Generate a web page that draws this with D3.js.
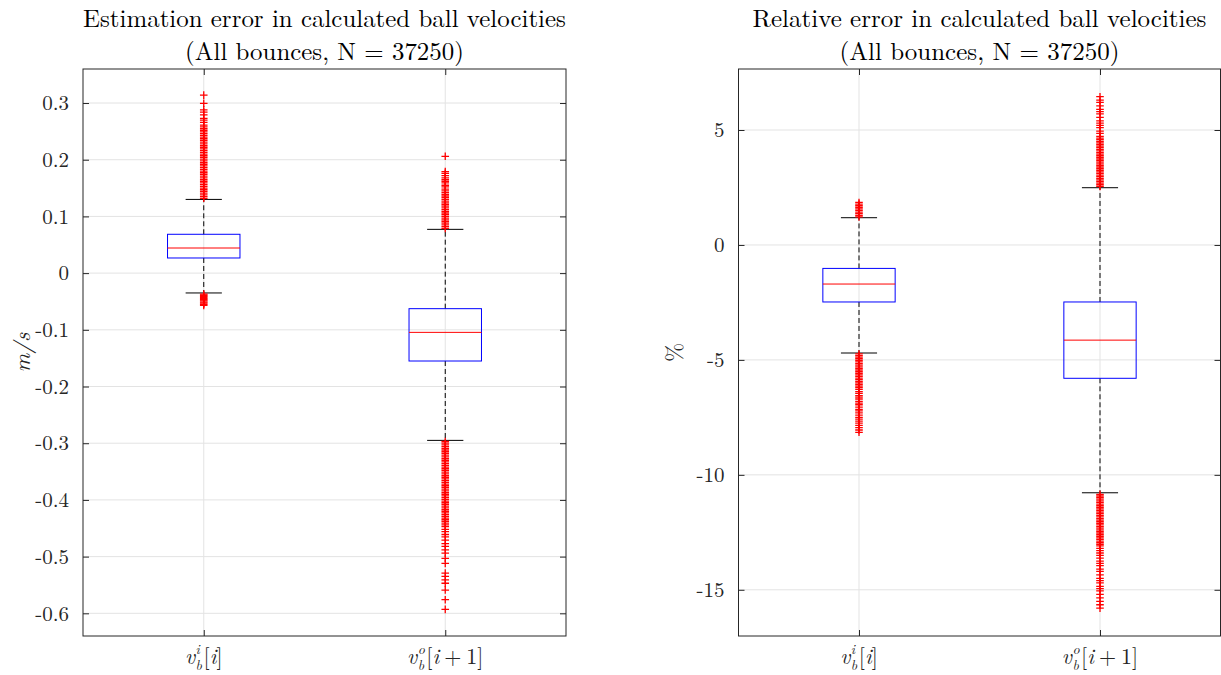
<!DOCTYPE html>
<html><head><meta charset="utf-8">
<script src="https://cdn.jsdelivr.net/npm/d3@7"></script>
<style>
body{margin:0;background:#fff}
svg{display:block}
</style>
</head><body>
<svg id="c" width="1221" height="675"></svg>
<script>
// ---------- data ----------
const categories = [1, 2];
const catSub = ["b", "b"];
const catSup = ["i", "o"];
const catIndex = [["i"], ["i", "+", "1"]];

const absTicks = [-0.6, -0.5, -0.4, -0.3, -0.2, -0.1, 0, 0.1, 0.2, 0.3];
const absDomain = [-0.64, 0.36];
const absQ1 = [0.0267, -0.155];
const absMedian = [0.0443, -0.1045];
const absQ3 = [0.0685, -0.0627];
const absWhiskerLow = [-0.035, -0.295];
const absWhiskerHigh = [0.130, 0.0772];
const absOutliers1 = [0.132,0.135,0.138,0.141,0.144,0.147,0.150,0.153,0.156,0.159,0.162,0.165,0.168,0.171,0.174,0.177,0.180,0.183,0.186,0.189,0.192,0.195,0.198,0.201,0.204,0.207,0.210,0.213,0.216,0.219,0.222,0.225,0.228,0.231,0.234,0.237,0.240,0.243,0.246,0.249,0.252,0.255,0.258,0.261,0.266,0.270,0.273,0.279,0.284,0.288,0.2995,0.314,
  -0.037,-0.039,-0.041,-0.043,-0.045,-0.047,-0.049,-0.051,-0.053,-0.055,-0.057];
const absOutliers2 = [0.079,0.082,0.085,0.088,0.091,0.094,0.097,0.100,0.103,0.106,0.109,0.112,0.115,0.118,0.121,0.124,0.127,0.130,0.133,0.136,0.139,0.142,0.145,0.148,0.152,0.155,0.159,0.162,0.165,0.168,0.172,0.176,0.179,0.206,
  -0.297,-0.300,-0.303,-0.306,-0.309,-0.312,-0.315,-0.318,-0.321,-0.324,-0.327,-0.330,-0.333,-0.336,-0.339,-0.342,-0.345,-0.348,-0.351,-0.354,-0.357,-0.360,-0.363,-0.366,-0.369,-0.372,-0.375,-0.378,-0.381,-0.384,-0.387,-0.390,-0.393,-0.396,-0.399,-0.402,-0.405,-0.408,-0.411,-0.414,-0.417,-0.420,-0.423,-0.426,-0.429,-0.432,-0.435,-0.438,-0.441,-0.444,-0.447,
  -0.452,-0.456,-0.461,-0.465,-0.471,-0.477,-0.482,-0.488,-0.494,-0.503,-0.512,-0.529,-0.535,-0.541,-0.547,-0.559,-0.576,-0.593];

const relTicks = [-15, -10, -5, 0, 5];
const relDomain = [-17.01, 7.654];
const relQ1 = [-2.48, -5.80];
const relMedian = [-1.70, -4.14];
const relQ3 = [-1.02, -2.48];
const relWhiskerLow = [-4.70, -10.78];
const relWhiskerHigh = [1.185, 2.49];
const relOutliers1 = [1.22,1.29,1.36,1.43,1.50,1.57,1.64,1.71,1.78,1.85,
  -4.74,-4.81,-4.88,-4.95,-5.02,-5.09,-5.16,-5.23,-5.30,-5.37,-5.44,-5.51,-5.58,-5.65,-5.72,-5.79,-5.86,-5.93,-6.00,-6.07,-6.14,-6.21,-6.28,
  -6.38,-6.46,-6.55,-6.62,-6.70,-6.80,-6.88,-6.95,-7.05,-7.15,-7.22,-7.30,-7.40,-7.50,-7.58,-7.66,-7.75,-7.85,-7.95,-8.05,-8.15];
const relOutliers2 = [2.55,2.62,2.69,2.76,2.83,2.90,2.97,3.04,3.11,3.18,3.25,3.32,3.39,3.46,3.53,3.60,3.67,3.74,3.81,3.88,3.95,4.02,4.09,4.16,4.23,4.30,4.37,4.44,4.51,4.58,4.65,4.72,
  4.85,4.95,5.1,5.2,5.3,5.4,5.55,5.7,5.8,5.9,6.05,6.2,6.3,6.45,
  -10.85,-10.92,-10.99,-11.06,-11.13,-11.20,-11.27,-11.34,-11.41,-11.48,-11.55,-11.62,-11.69,-11.76,-11.83,-11.90,-11.97,-12.04,-12.11,-12.18,-12.25,-12.32,-12.39,-12.46,-12.53,-12.60,-12.67,-12.74,-12.81,-12.88,-12.95,-13.02,-13.09,
  -13.2,-13.3,-13.4,-13.5,-13.62,-13.75,-13.85,-13.95,-14.1,-14.2,-14.35,-14.5,-14.6,-14.7,-14.85,-14.95,-15.05,-15.2,-15.35,-15.5,-15.65,-15.8];

const titles1 = ["Estimation error in calculated ball velocities", "(All bounces, N = 37250)"];
const titles2 = ["Relative error in calculated ball velocities", "(All bounces, N = 37250)"];

// ---------- drawing ----------
const svg = d3.select("#c");
const AX = "#262626", GRID = "#e3e3e3", FONT = '"Latin Modern Roman","Liberation Serif",serif';

function drawPanel(p) {
  const g = svg.append("g").attr("font-family", FONT);
  const x = d3.scaleLinear().domain([0.5, 2.5]).range([p.left, p.right]);
  const y = d3.scaleLinear().domain(p.domain).range([p.bottom, p.top]);

  g.append("g").selectAll("line").data(p.ticks).join("line")
    .attr("x1", p.left).attr("x2", p.right)
    .attr("y1", d => y(d)).attr("y2", d => y(d))
    .attr("stroke", GRID).attr("stroke-width", 1);
  g.append("g").selectAll("line").data(categories).join("line")
    .attr("x1", d => x(d)).attr("x2", d => x(d))
    .attr("y1", p.top).attr("y2", p.bottom)
    .attr("stroke", GRID).attr("stroke-width", 1);

  const yl = g.append("g").attr("transform", `translate(${p.left},0)`)
    .call(d3.axisLeft(y).tickValues(p.ticks).tickSize(-6).tickPadding(14).tickFormat(d => String(d)));
  const yr = g.append("g").attr("transform", `translate(${p.right},0)`)
    .call(d3.axisRight(y).tickValues(p.ticks).tickSize(-6).tickFormat(""));
  const xb = g.append("g").attr("transform", `translate(0,${p.bottom})`)
    .call(d3.axisBottom(x).tickValues(categories).tickSize(-6).tickFormat(""));
  const xt = g.append("g").attr("transform", `translate(0,${p.top})`)
    .call(d3.axisTop(x).tickValues(categories).tickSize(-6).tickFormat(""));
  [yl, yr, xb, xt].forEach(a => {
    a.attr("font-family", FONT);
    a.select(".domain").remove();
    a.selectAll(".tick line").attr("stroke", AX).attr("stroke-width", 1);
  });
  yl.selectAll(".tick text").attr("font-size", 21).attr("fill", AX).attr("font-family", FONT);
  g.append("rect").attr("x", p.left).attr("y", p.top)
    .attr("width", p.right - p.left).attr("height", p.bottom - p.top)
    .attr("fill", "none").attr("stroke", AX).attr("stroke-width", 1);

  const bw = x(1.15) - x(0.85), cw = x(1.075) - x(0.925);
  categories.forEach((c, i) => {
    const cx = x(c);
    g.append("line").attr("x1", cx).attr("x2", cx)
      .attr("y1", y(p.q3[i])).attr("y2", y(p.wh[i]))
      .attr("stroke", "#000").attr("stroke-dasharray", "5,3").attr("stroke-width", 1);
    g.append("line").attr("x1", cx).attr("x2", cx)
      .attr("y1", y(p.q1[i])).attr("y2", y(p.wl[i]))
      .attr("stroke", "#000").attr("stroke-dasharray", "5,3").attr("stroke-width", 1);
    [p.wh[i], p.wl[i]].forEach(v => g.append("line")
      .attr("x1", cx - cw / 2).attr("x2", cx + cw / 2)
      .attr("y1", y(v)).attr("y2", y(v)).attr("stroke", "#000").attr("stroke-width", 1));
    g.append("rect").attr("x", cx - bw / 2).attr("width", bw)
      .attr("y", y(p.q3[i])).attr("height", y(p.q1[i]) - y(p.q3[i]))
      .attr("fill", "none").attr("stroke", "#0000ff").attr("stroke-width", 1);
    g.append("line").attr("x1", cx - bw / 2).attr("x2", cx + bw / 2)
      .attr("y1", y(p.med[i])).attr("y2", y(p.med[i]))
      .attr("stroke", "#ff0000").attr("stroke-width", 1);
    g.append("g").selectAll("path").data(p.out[i]).join("path")
      .attr("transform", d => `translate(${cx},${y(d)})`)
      .attr("d", "M-3.8,0H3.8M0,-3.8V3.8")
      .attr("stroke", "#ff0000").attr("stroke-width", 1.3).attr("fill", "none");
    drawLabel(g, cx, p.bottom + 28, catSub[i], catSup[i], catIndex[i]);
  });

  const tc = (p.left + p.right) / 2;
  const probe = g.append("text").attr("font-size", 24).attr("font-family", FONT).text(p.titles[0]);
  const fs = 24 * p.titleW / probe.node().getComputedTextLength();
  probe.remove();
  p.titles.forEach((t, k) => g.append("text").attr("x", tc).attr("y", 27 + k * 33)
    .attr("text-anchor", "middle").attr("font-size", fs).attr("fill", "#000")
    .attr("font-family", FONT).text(t));
  g.append("text").attr("transform", `translate(${p.ylx},${(p.top + p.bottom) / 2}) rotate(-90)`)
    .attr("text-anchor", "middle").attr("font-size", 23).attr("fill", "#262626")
    .attr("font-family", FONT)
    .attr("font-style", p.ylItalic ? "italic" : "normal").text(p.ylabel);
}

function drawLabel(g, cx, base, sub, sup, idx) {
  const lg = g.append("g");
  const t = lg.append("text").attr("y", base).attr("font-size", 22).attr("fill", "#262626")
    .attr("font-family", FONT);
  let xpos = 0;
  const add = (txt, opts) => {
    const s = t.append("tspan").attr("x", xpos).attr("y", base + (opts.dy || 0))
      .attr("font-size", opts.size || 22)
      .attr("font-style", opts.italic ? "italic" : "normal").text(txt);
    return s.node().getComputedTextLength();
  };
  xpos += add("v", {italic: true}) + 0.5;
  const w1 = add(sub, {italic: true, size: 14, dy: 6});
  const w2 = add(sup, {italic: true, size: 14, dy: -10});
  xpos += Math.max(w1, w2) + 1.5;
  xpos += add("[", {});
  idx.forEach(s => {
    if (s === "+") { xpos += 5; xpos += add("+", {}) + 5; }
    else xpos += add(s, {italic: s === "i"});
  });
  xpos += add("]", {});
  lg.attr("transform", `translate(${cx - xpos / 2},0)`);
}

drawPanel({left: 83, right: 566, top: 69, bottom: 636, domain: absDomain, ticks: absTicks,
  q1: absQ1, med: absMedian, q3: absQ3, wl: absWhiskerLow, wh: absWhiskerHigh,
  out: [absOutliers1, absOutliers2], titles: titles1, titleW: 483,
  ylabel: "m/s", ylx: 30, ylItalic: true});
drawPanel({left: 738.5, right: 1220.5, top: 69, bottom: 636, domain: relDomain, ticks: relTicks,
  q1: relQ1, med: relMedian, q3: relQ3, wl: relWhiskerLow, wh: relWhiskerHigh,
  out: [relOutliers1, relOutliers2], titles: titles2, titleW: 454,
  ylabel: "%", ylx: 682, ylItalic: false});
</script>
</body></html>
